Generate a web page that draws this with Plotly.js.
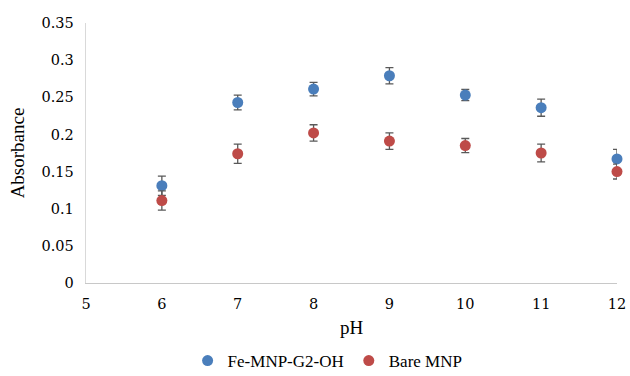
<!DOCTYPE html>
<html>
<head>
<meta charset="utf-8">
<script src="https://cdn.plot.ly/plotly-3.0.1.min.js"></script>
<style>html,body{margin:0;padding:0;background:#fff;}#chart{width:630px;height:376px;}</style>
</head>
<body>
<div id="chart"></div>
<script>
var pH = [6, 7, 8, 9, 10, 11, 12];
var feMnp = [0.131, 0.243, 0.261, 0.279, 0.253, 0.236, 0.167];
var feMnpErr = [0.013, 0.010, 0.009, 0.011, 0.0075, 0.0115, 0.013];
var bareMnp = [0.111, 0.174, 0.202, 0.191, 0.185, 0.175, 0.150];
var bareMnpErr = [0.013, 0.013, 0.011, 0.011, 0.0095, 0.012, 0.010];
var seriesNames = ['Fe-MNP-G2-OH', 'Bare MNP'];

var font = 'Liberation Serif, DejaVu Serif, serif';
var digitFont = 'DejaVu Serif, serif';
var errStyle = {type: 'data', visible: true, color: '#595959', thickness: 1.3, width: 4};

var traces = [
  {x: pH, y: feMnp, name: seriesNames[0], type: 'scatter', mode: 'markers', cliponaxis: false,
   marker: {color: '#4A7EBB', size: 11},
   error_y: Object.assign({array: feMnpErr}, errStyle)},
  {x: pH, y: bareMnp, name: seriesNames[1], type: 'scatter', mode: 'markers', cliponaxis: false,
   marker: {color: '#BE4B48', size: 11},
   error_y: Object.assign({array: bareMnpErr}, errStyle)}
];

var layout = {
  width: 630, height: 376,
  margin: {l: 86, r: 13, t: 23, b: 93, autoexpand: false},
  paper_bgcolor: '#fff', plot_bgcolor: '#fff',
  font: {family: font, size: 16, color: '#000'},
  showlegend: true,
  legend: {orientation: 'h', x: 0.52, xanchor: 'center', xref: 'container',
           y: -0.3, yanchor: 'middle', yref: 'paper',
           font: {family: font, size: 17, color: '#000'}, itemwidth: 30, tracegroupgap: 0},
  xaxis: {range: [5, 12], dtick: 1, tick0: 5, showgrid: false, zeroline: false,
          showline: true, linecolor: '#C8C8C8', linewidth: 1.3, ticks: '',
          ticklabelstandoff: 7, automargin: false,
          tickfont: {family: digitFont, size: 14.5, color: '#000'},
          title: {text: 'pH', font: {family: font, size: 19}, standoff: 10}},
  yaxis: {range: [0, 0.35], dtick: 0.05, showgrid: false, zeroline: false,
          showline: true, linecolor: '#D9D9D9', linewidth: 1.3, ticks: '',
          ticklabelstandoff: 8, automargin: false,
          tickfont: {family: digitFont, size: 14.5, color: '#000'},
          title: {text: 'Absorbance', font: {family: font, size: 19}, standoff: 12}}
};

Plotly.newPlot('chart', traces, layout, {displayModeBar: false, staticPlot: true});
</script>
</body>
</html>
